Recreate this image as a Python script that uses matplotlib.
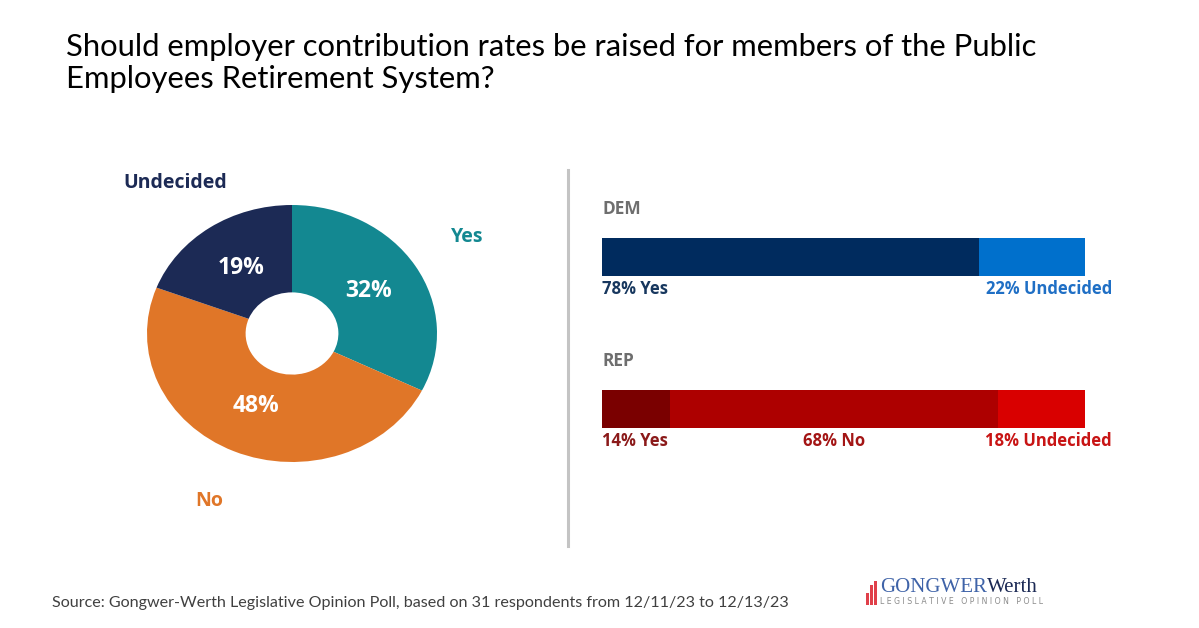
import matplotlib
matplotlib.use("Agg")
import matplotlib.pyplot as plt
from matplotlib.patches import Rectangle

# overall result (donut)
pie_labels = ["Yes", "No", "Undecided"]
pie_values = [32, 48, 19]
pie_colors = ["#138891", "#E07628", "#1C2A55"]

# party breakdown (stacked bars)
dem_labels = ["Yes", "Undecided"]
dem_values = [78, 22]
dem_colors = ["#002B5E", "#0070CC"]
dem_text_colors = ["#17375E", "#1F6FC5"]

rep_labels = ["Yes", "No", "Undecided"]
rep_values = [14, 68, 18]
rep_colors = ["#7A0000", "#AD0000", "#D90000"]
rep_text_colors = ["#8B1A1A", "#A31515", "#C81414"]

W, H = 1199, 628
fig = plt.figure(figsize=(W / 100, H / 100), dpi=100)
fig.patch.set_facecolor("white")


def box(x0, y0, x1, y1):
    # pixel box (from top-left) -> figure fraction rect
    return [x0 / W, 1 - y1 / H, (x1 - x0) / W, (y1 - y0) / H]


fig.text(66 / W, 1 - 33 / H,
         "Should employer contribution rates be raised for members of the Public\n"
         "Employees Retirement System?",
         ha="left", va="top", fontsize=22.3, family="Lato", color="black",
         linespacing=1.19)

# donut
ax = fig.add_axes(box(147, 205, 437, 462))
wedges, texts, autotexts = ax.pie(
    pie_values, labels=pie_labels, colors=pie_colors, startangle=90,
    counterclock=False, wedgeprops=dict(width=0.68, linewidth=0),
    autopct="%d%%", pctdistance=0.62, labeldistance=1.42,
    textprops=dict(family="Open Sans", fontweight="bold", fontsize=14))
for t, v in zip(autotexts, pie_values):
    t.set_text(f"{v}%")
    t.set_color("white")
    t.set_fontsize(16.5)
for t, c in zip(texts, pie_colors):
    t.set_color(c)
    t.set_ha("center")
ax.set_aspect("auto")
ax.set_xlim(-1, 1)
ax.set_ylim(-1, 1)
ax.set_position(box(147, 205, 437, 462))
ax.axis("off")

# divider
fig.add_artist(plt.Line2D([568 / W, 568 / W], [1 - 170 / H, 1 - 546 / H],
                          color="#C4C4C4", linewidth=2.2))

lab_font = dict(family="Open Sans", fontweight="bold", fontsize=12)


def party_bar(y0, y1, name, values, labels, colors, tcolors):
    bax = fig.add_axes(box(602, y0, 1085, y1))
    left = 0
    mids = []
    for v, c in zip(values, colors):
        bax.barh(0, v, left=left, height=1, color=c, edgecolor="none")
        mids.append(left + v / 2)
        left += v
    bax.set_xlim(0, 100)
    bax.set_ylim(-0.5, 0.5)
    bax.axis("off")
    bax.annotate(name, (0, 0.5), xytext=(0, 29), textcoords="offset pixels",
                 ha="left", va="center", color="#6E6E6E",
                 family="Open Sans", fontweight="bold", fontsize=12.5)
    n = len(values)
    for i, (v, l, tc) in enumerate(zip(values, labels, tcolors)):
        txt = f"{v}% {l}"
        if i == 0:
            xy, dx, ha = (0, -0.5), 0, "left"
        elif i == n - 1:
            xy, dx, ha = (100, -0.5), 27, "right"
        else:
            xy, dx, ha = (mids[i], -0.5), 0, "center"
        bax.annotate(txt, xy, xytext=(dx, -13), textcoords="offset pixels",
                     ha=ha, va="center", color=tc, **lab_font)


party_bar(238, 276, "DEM", dem_values, dem_labels, dem_colors, dem_text_colors)
party_bar(390, 428, "REP", rep_values, rep_labels, rep_colors, rep_text_colors)

# footer
fig.text(52 / W, 1 - 603 / H,
         "Source: Gongwer-Werth Legislative Opinion Poll, based on 31 respondents from 12/11/23 to 12/13/23",
         ha="left", va="center", fontsize=11.6, family="Lato", color="#404040")

# logo
for x, h in [(866, 12), (870, 20), (874, 24)]:
    fig.add_artist(Rectangle((x / W, 1 - 605 / H), 2.5 / W, h / H,
                             transform=fig.transFigure, color="#E0404A", lw=0))
g = fig.text(880 / W, 1 - 588 / H, "GONGWER", ha="left", va="center",
             fontsize=15, family="Liberation Serif", color="#3F63A8")
fig.canvas.draw()
gx1 = g.get_window_extent().x1
fig.text(gx1 / W, 1 - 588 / H, "Werth", ha="left", va="center",
         fontsize=15, family="Liberation Serif", color="#1C2A55")
fig.text(880 / W, 1 - 601.5 / H, "L E G I S L A T I V E   O P I N I O N   P O L L",
         ha="left", va="center", fontsize=5.6, family="DejaVu Sans", color="#8A8A8A")

fig.savefig("out.png", dpi=100, facecolor="white")
